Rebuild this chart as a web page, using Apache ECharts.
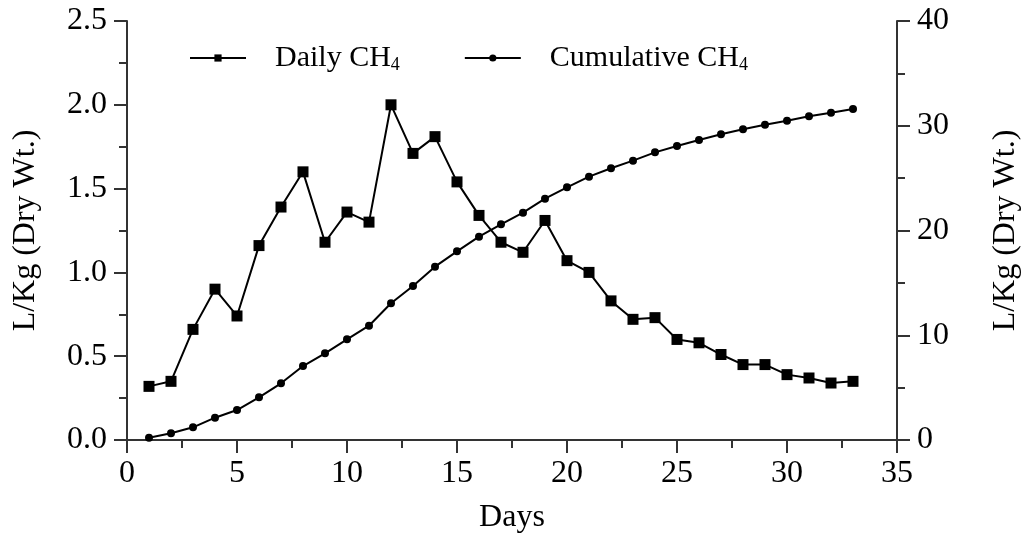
<!DOCTYPE html>
<html>
<head>
<meta charset="utf-8">
<script src="https://cdn.jsdelivr.net/npm/echarts@6/dist/echarts.min.js"></script>
<style>
html, body { margin: 0; padding: 0; background: #fff; }
#chart { width: 1027px; height: 535px; }
</style>
</head>
<body>
<div id="chart"></div>
<script>
var days = [1,2,3,4,5,6,7,8,9,10,11,12,13,14,15,16,17,18,19,20,21,22,23,24,25,26,27,28,29,30,31,32,33];
var daily = [0.32,0.35,0.66,0.90,0.74,1.16,1.39,1.60,1.18,1.36,1.30,2.00,1.71,1.81,1.54,
  1.34,1.18,1.12,1.31,1.07,1.00,0.83,0.72,0.73,0.60,0.58,0.51,0.45,0.45,0.39,0.37,0.34,0.35];
var cumulative = [0.22,0.64,1.21,2.13,2.86,4.07,5.41,7.06,8.27,9.61,10.91,13.05,14.70,16.55,18.01,
  19.41,20.59,21.70,23.04,24.12,25.14,25.94,26.67,27.46,28.07,28.64,29.18,29.66,30.10,30.48,30.90,31.25,31.60];
var seriesNames = ['Daily CH4', 'Cumulative CH4'];

var chartDom = document.getElementById('chart');
var myChart = echarts.init(chartDom);
var font = 'Liberation Serif';
var axisLine = { show: true, lineStyle: { color: '#333', width: 2 } };
var axisTick = { show: true, length: 13, inside: false, lineStyle: { color: '#333', width: 2 } };
var minorTick = { show: true, splitNumber: 2, length: 8, lineStyle: { color: '#333', width: 2 } };
var axisLabel = { color: '#000', fontFamily: font, fontSize: 32, margin: 20 };
var nameStyle = { color: '#000', fontFamily: font, fontSize: 32 };

function pairs(vals) {
  return days.map(function (d, i) { return [d, vals[i]]; });
}

var option = {
  animation: false,
  textStyle: { fontFamily: font },
  grid: { left: 127, right: 130, top: 21, bottom: 95, containLabel: false, outerBoundsMode: 'none' },
  legend: {
    left: 184,
    top: 38,
    itemWidth: 56,
    itemHeight: 9,
    itemGap: 64,
    data: seriesNames,
    textStyle: {
      color: '#000', fontFamily: font, fontSize: 30, padding: [0, 0, 0, 24],
      rich: { sub: { fontFamily: font, fontSize: 18, verticalAlign: 'bottom', padding: [14, 0, 0, 0] } }
    },
    formatter: function (name) { return name.replace('CH4', 'CH{sub|4}'); }
  },
  xAxis: {
    type: 'value', min: 0, max: 35, interval: 5,
    name: 'Days', nameLocation: 'middle', nameGap: 62,
    nameTextStyle: nameStyle,
    axisLine: axisLine, axisTick: axisTick, minorTick: minorTick,
    axisLabel: Object.assign({}, axisLabel, { margin: 18 }), splitLine: { show: false }
  },
  yAxis: [
    {
      type: 'value', min: 0, max: 2.5, interval: 0.5, position: 'left',
      name: 'L/Kg (Dry Wt.)', nameLocation: 'middle', nameGap: 85,
      nameTextStyle: nameStyle,
      axisLine: axisLine, axisTick: axisTick, minorTick: minorTick,
      axisLabel: Object.assign({}, axisLabel, { formatter: function (v) { return v.toFixed(1); } }),
      splitLine: { show: false }
    },
    {
      type: 'value', min: 0, max: 40, interval: 10, position: 'right',
      name: 'L/Kg (Dry Wt.)', nameLocation: 'middle', nameGap: 93,
      nameTextStyle: nameStyle,
      axisLine: axisLine, axisTick: axisTick, minorTick: minorTick,
      axisLabel: axisLabel, splitLine: { show: false }
    }
  ],
  series: [
    {
      name: seriesNames[0], type: 'line', yAxisIndex: 0,
      data: pairs(daily),
      symbol: 'rect', symbolSize: 11,
      lineStyle: { color: '#000', width: 2 },
      itemStyle: { color: '#000' }
    },
    {
      name: seriesNames[1], type: 'line', yAxisIndex: 1,
      data: pairs(cumulative),
      symbol: 'circle', symbolSize: 8,
      lineStyle: { color: '#000', width: 2 },
      itemStyle: { color: '#000' }
    }
  ]
};

option && myChart.setOption(option);
</script>
</body>
</html>
